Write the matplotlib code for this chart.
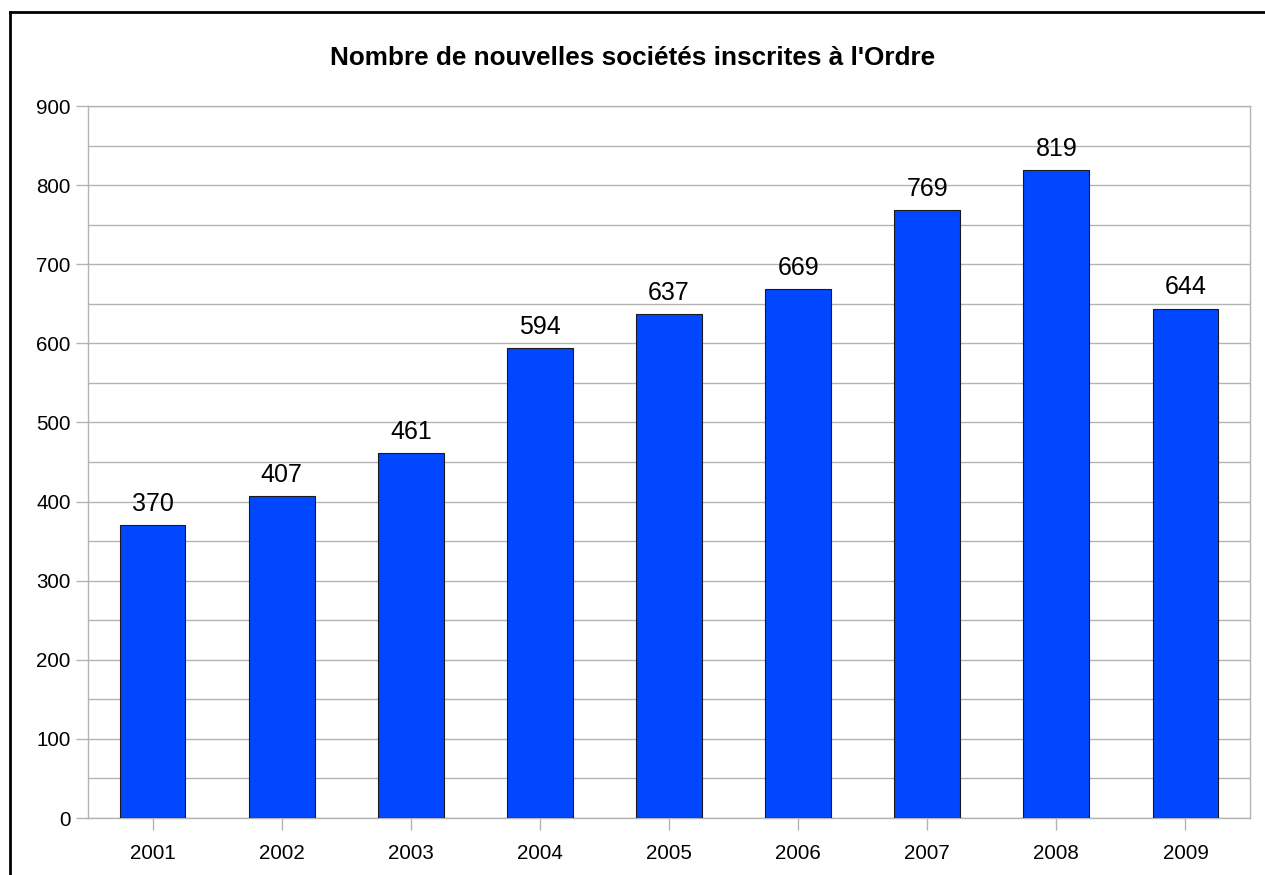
# Bar chart: number of new companies registered with the Ordre, 2001-2009
import matplotlib.pyplot as plt
from matplotlib.lines import Line2D
from matplotlib.ticker import MultipleLocator

years = ["2001", "2002", "2003", "2004", "2005", "2006", "2007", "2008", "2009"]
new_companies = [370, 407, 461, 594, 637, 669, 769, 819, 644]

plt.rcParams["font.family"] = ["Liberation Sans", "DejaVu Sans"]

W, H = 1265, 875
fig = plt.figure(figsize=(W / 100, H / 100), dpi=100)
ax = fig.add_axes([88 / W, 1 - 818 / H, (1250 - 88) / W, (818 - 106) / H])

x = range(len(years))
bars = ax.bar(x, new_companies, width=0.51, color="#0047FF",
              edgecolor="#1a1a1a", linewidth=0.8, zorder=3)

for xi, v in zip(x, new_companies):
    ax.annotate(str(v), (xi, v), xytext=(0, 6.5), textcoords="offset points",
                ha="center", va="bottom", fontsize=18)

ax.set_xlim(-0.5, len(years) - 0.5)
ax.set_ylim(0, 900)
ax.yaxis.set_major_locator(MultipleLocator(100))
ax.yaxis.set_minor_locator(MultipleLocator(50))
ax.grid(axis="y", which="both", color="#b3b3b3", linewidth=1.0, zorder=0)
ax.set_xticks(list(x))
ax.set_xticklabels(years)

for s in ax.spines.values():
    s.set_color("#b3b3b3")
    s.set_linewidth(1.0)
ax.tick_params(axis="both", which="major", color="#b3b3b3", length=8.5,
               width=1.0, labelsize=14.8, pad=4)
ax.tick_params(axis="x", which="major", pad=10)
ax.tick_params(axis="y", which="minor", length=0)

fig.text(0.5, 1 - 58 / H,
         "Nombre de nouvelles sociétés inscrites à l'Ordre",
         ha="center", va="center", fontsize=18.8, fontweight="bold")

# outer frame (only left and top edges fall inside the image)
fig.add_artist(Line2D([10 / W, 10 / W], [0, 1 - 12 / H], transform=fig.transFigure,
                      color="black", linewidth=2))
fig.add_artist(Line2D([10 / W, 1], [1 - 12 / H, 1 - 12 / H], transform=fig.transFigure,
                      color="black", linewidth=2))

fig.savefig("out.png", dpi=100)
